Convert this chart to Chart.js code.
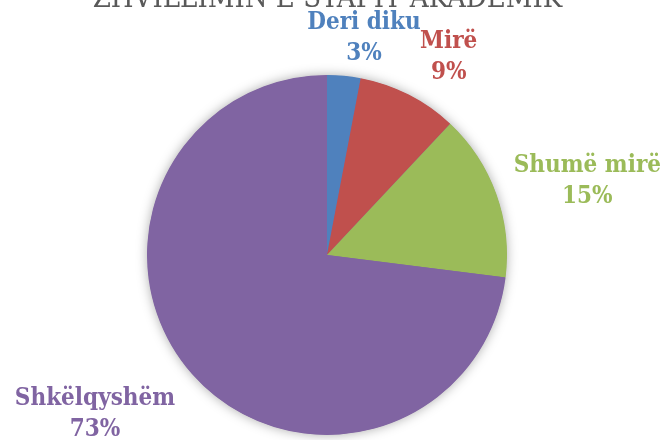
<!DOCTYPE html>
<html>
<head>
<meta charset="utf-8">
<script src="https://cdn.jsdelivr.net/npm/chart.js@4/dist/chart.umd.min.js"></script>
<style>
html,body{margin:0;padding:0;background:#fff;}
#wrap{width:667px;height:440px;position:relative;}
</style>
</head>
<body>
<div id="wrap"><canvas id="c" width="667" height="440"></canvas></div>
<script>
const titleText = "ZHVILLIMIN E STAFIT AKADEMIK";
const categories = ["Deri diku", "Mirë", "Shumë mirë", "Shkëlqyshëm"];
const values = [3, 9, 15, 73];
const colors = ["#4F81BD", "#C0504D", "#9BBB59", "#8064A2"];
// label offsets relative to the outer midpoint of each slice (first line baseline)
const labelOffsets = [[20, -47], [40, -47], [91, -22], [-97, 31]];

const labelFont = 'bold 24px "DejaVu Serif Condensed", "DejaVu Serif", serif';
const titleFont = '29px "DejaVu Serif Condensed", "DejaVu Serif", serif';

const shadowPlugin = {
  id: 'shadowPie',
  beforeDatasetsDraw(chart) {
    const arc = chart.getDatasetMeta(0).data[0];
    if (!arc) return;
    const ctx = chart.ctx;
    ctx.save();
    ctx.shadowColor = 'rgba(0,0,0,0.35)';
    ctx.shadowBlur = 12;
    ctx.shadowOffsetX = 0;
    ctx.shadowOffsetY = 0;
    ctx.fillStyle = colors[3];
    ctx.beginPath();
    ctx.arc(arc.x, arc.y, arc.outerRadius - 0.5, 0, Math.PI * 2);
    ctx.fill();
    ctx.restore();
  }
};

const labelPlugin = {
  id: 'outLabels',
  afterDatasetsDraw(chart) {
    const ctx = chart.ctx;
    const meta = chart.getDatasetMeta(0);
    const total = values.reduce((a, b) => a + b, 0);
    ctx.save();
    ctx.font = labelFont;
    ctx.textAlign = 'center';
    ctx.textBaseline = 'alphabetic';
    meta.data.forEach((arc, i) => {
      const mid = (arc.startAngle + arc.endAngle) / 2;
      const ox = arc.x + Math.cos(mid) * arc.outerRadius;
      const oy = arc.y + Math.sin(mid) * arc.outerRadius;
      const x = ox + labelOffsets[i][0];
      const y = oy + labelOffsets[i][1];
      ctx.fillStyle = colors[i];
      ctx.fillText(categories[i], x, y);
      ctx.fillText(Math.round(values[i] / total * 100) + '%', x, y + 31);
    });
    // title (last line visible at the top edge)
    ctx.font = titleFont;
    ctx.fillStyle = '#595959';
    ctx.fillText(titleText, chart.width / 2 - 6, 7);
    ctx.restore();
  }
};

new Chart(document.getElementById('c'), {
  type: 'pie',
  data: {
    labels: categories,
    datasets: [{
      data: values,
      backgroundColor: colors,
      borderWidth: 0
    }]
  },
  options: {
    responsive: false,
    animation: false,
    layout: { padding: { left: 147, right: 160, top: 75, bottom: 5 } },
    plugins: {
      legend: { display: false },
      tooltip: { enabled: false },
      title: { display: false }
    }
  },
  plugins: [shadowPlugin, labelPlugin]
});
</script>
</body>
</html>
